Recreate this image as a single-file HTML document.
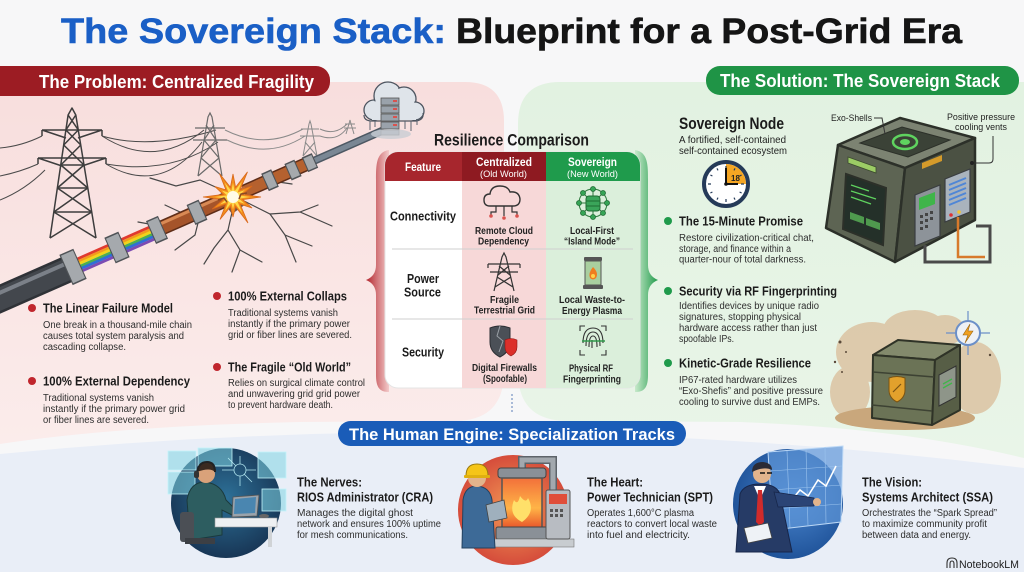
<!DOCTYPE html>
<html><head><meta charset="utf-8">
<style>
html,body{margin:0;padding:0;background:#f7f7f8;}
svg{display:block;}
text{font-family:"Liberation Sans",Arial,sans-serif;}
.h{font-weight:bold;fill:#1b1b1b;font-size:13px;}
.b{fill:#2e2e2e;font-size:10px;}
.c{font-weight:bold;fill:#222;font-size:10px;}
.w{font-weight:bold;fill:#fff;}
</style></head><body>
<svg width="1024" height="572" viewBox="0 0 1024 572" xmlns="http://www.w3.org/2000/svg">
<defs>
<linearGradient id="pk" x1="0" y1="0" x2="0" y2="1"><stop offset="0" stop-color="#f8dedd"/><stop offset="1" stop-color="#fbeceb"/></linearGradient>
<linearGradient id="gr" x1="0" y1="0" x2="0" y2="1"><stop offset="0" stop-color="#e2f2e1"/><stop offset="1" stop-color="#e9f5e8"/></linearGradient>
<linearGradient id="rb" x1="0" y1="0" x2="1" y2="0"><stop offset="0" stop-color="#b3262d"/><stop offset="1" stop-color="#f3caca"/></linearGradient>
<linearGradient id="gb" x1="1" y1="0" x2="0" y2="0"><stop offset="0" stop-color="#1f9a4a"/><stop offset="1" stop-color="#c8eacb"/></linearGradient>
<radialGradient id="c1" cx=".5" cy=".45" r=".6"><stop offset="0" stop-color="#2d7097"/><stop offset="1" stop-color="#163150"/></radialGradient>
<radialGradient id="c2" cx=".5" cy=".5" r=".6"><stop offset="0" stop-color="#f39a55"/><stop offset="1" stop-color="#cf3d36"/></radialGradient>
<radialGradient id="c3" cx=".55" cy=".45" r=".6"><stop offset="0" stop-color="#4a86cf"/><stop offset="1" stop-color="#1c4f95"/></radialGradient>
<linearGradient id="fire" x1="0" y1="0" x2="0" y2="1"><stop offset="0" stop-color="#f2703a"/><stop offset=".6" stop-color="#ffb447"/><stop offset="1" stop-color="#e8552a"/></linearGradient>
<clipPath id="tbl"><rect x="385" y="152" width="255" height="236" rx="13"/></clipPath>
</defs>

<rect width="1024" height="572" fill="#f7f7f8"/>

<!-- panels -->
<path d="M0,82 H465 Q504,82 504,121 V372 Q504,420 456,421 L300,422 Q120,426 0,444 Z" fill="url(#pk)"/>
<path d="M1024,82 H560 Q518,82 518,124 V372 Q518,420 566,421 L740,422 Q900,428 1024,458 Z" fill="url(#gr)"/>
<path d="M0,454 Q512,404 1024,468 V572 H0 Z" fill="#e9eef7"/>

<!-- title -->
<text x="61" y="43" font-size="35" font-weight="bold" fill="#1a5fc6" stroke="#1a5fc6" stroke-width=".6" textLength="385" lengthAdjust="spacingAndGlyphs">The Sovereign Stack:</text>
<text x="456" y="43" font-size="35" font-weight="bold" fill="#151515" stroke="#151515" stroke-width=".6" textLength="506" lengthAdjust="spacingAndGlyphs">Blueprint for a Post-Grid Era</text>

<!-- pills -->
<rect x="-20" y="66" width="350" height="30" rx="14" fill="#9c1c23"/>
<text x="39" y="88" font-size="18" class="w" textLength="275" lengthAdjust="spacingAndGlyphs">The Problem: Centralized Fragility</text>
<rect x="706" y="66" width="313" height="29" rx="14" fill="#1f9446"/>
<text x="720" y="87" font-size="18" class="w" textLength="280" lengthAdjust="spacingAndGlyphs">The Solution: The Sovereign Stack</text>

<!-- power towers -->
<g stroke="#3d3d3d" stroke-width="1.5" fill="none" stroke-linejoin="round">
 <path d="M50,238 L68.1,115 L72,108 L75.8,115 L96,238"/>
 <path d="M50,238 L91.7,212 M96,238 L53.8,212 M53.8,212 L87.8,188 M91.7,212 L57.4,188 M57.4,188 L84,165 M87.8,188 L60.8,165 M60.8,165 L80.8,145 M84,165 L63.7,145 M63.7,145 L78.3,130 M80.8,145 L65.9,130 M65.9,130 L75.8,115 M78.3,130 L68.1,115"/>
 <path d="M53.8,212 H91.7 M57.4,188 H87.8 M60.8,165 H84"/>
 <path d="M42,130 H102 M42,130 L66,138 M102,130 L78,138 M38,158 H106 M38,158 L62,166 M106,158 L82,166"/>
 <path d="M42,130 v6 M102,130 v6 M38,158 v6 M106,158 v6"/>
</g>
<g stroke="#4a4a4a" stroke-width="1" fill="none">
 <path d="M0,148 Q22,146 42,136"/><path d="M0,176 Q20,172 38,164"/><path d="M0,200 Q25,190 45,170"/>
 <path d="M102,136 Q155,170 204,130"/><path d="M106,164 Q160,196 202,142"/><path d="M102,136 Q150,150 216,130"/>
 <path d="M106,164 Q170,175 218,142"/>
</g>
<g stroke="#6a6a6a" stroke-width="1.2" fill="none">
 <path d="M198,176 L208,117 L210,113 L212,117 L222,176 M198,176 L219,158 M222,176 L201,158 M201,158 L216,140 M219,158 L204,140 M204,140 L214,125 M216,140 L206,125"/>
 <path d="M195,128 H225 M193,140 H227"/>
</g>
<g stroke="#8a8a8a" stroke-width="1" fill="none">
 <path d="M225,130 Q265,150 303,129 M227,140 Q268,160 305,136"/>
 <path d="M303,156 L309,124 L310,121 L311,124 L317,156 M303,156 L315,142 M317,156 L305,142 M301,129 H319 M300,136 H320"/>
 <path d="M320,129 Q335,136 347,124 M320,136 Q337,142 347,128"/>
 <path d="M346,134 L349.5,122 L350,120 L350.5,122 L354,134 M345,124 H355 M344,128 H356"/>
</g>

<!-- cracks -->
<g stroke="#474747" stroke-width="1.2" fill="none" stroke-linecap="round">
 <path d="M225,202 L200,215 L180,212 L160,226 L138,222"/>
 <path d="M200,215 L195,235 L175,250 M180,212 L165,205"/>
 <path d="M233,208 L228,230 L240,250 L232,272 M240,250 L262,262"/>
 <path d="M242,200 L270,214 L300,212 L332,226 M300,212 L318,205"/>
 <path d="M270,214 L285,235 L312,246 M285,235 L296,262"/>
 <path d="M222,190 L200,180 L176,186 L150,178"/>
 <path d="M246,192 L265,180 L292,184"/>
 <path d="M228,230 L214,248 L204,264"/>
</g>
<path d="M222,200 L232,214 L246,204 L238,192 Z" fill="#6e5546"/>

<!-- cable -->
<g stroke-linecap="butt">
 <line x1="-10" y1="303.4" x2="73" y2="266.9" stroke="#2f3237" stroke-width="27"/>
 <line x1="-10" y1="303.4" x2="73" y2="266.9" stroke="#43474d" stroke-width="22"/>
 <line x1="-12" y1="298" x2="71" y2="261.4" stroke="#7b8088" stroke-width="4"/>
 <line x1="75" y1="260" x2="160" y2="222.5" stroke="#e03a2f" stroke-width="2.8"/>
 <line x1="75.5" y1="262.7" x2="160.5" y2="225.3" stroke="#f39a1e" stroke-width="2.8"/>
 <line x1="76" y1="265" x2="161" y2="227.6" stroke="#f2d31b" stroke-width="2.8"/>
 <line x1="77" y1="267.6" x2="162" y2="230.2" stroke="#4caf50" stroke-width="2.8"/>
 <line x1="77.5" y1="270" x2="162.5" y2="232.6" stroke="#2f6fd6" stroke-width="2.8"/>
 <line x1="78.5" y1="272.5" x2="163.5" y2="235.1" stroke="#7b4bb3" stroke-width="2.8"/>
 <line x1="160" y1="228.6" x2="225" y2="200" stroke="#5e2d18" stroke-width="15"/>
 <line x1="160" y1="228.6" x2="225" y2="200" stroke="#a5542a" stroke-width="12"/>
 <line x1="158" y1="225" x2="222" y2="196.6" stroke="#d98a55" stroke-width="3"/>
 <path d="M224,196 l8,-3 M225,200 l9,-1 M225,204 l8,2" stroke="#c0703d" stroke-width="2"/>
 <line x1="244" y1="191.6" x2="313" y2="161.2" stroke="#5e2d18" stroke-width="14"/>
 <line x1="244" y1="191.6" x2="313" y2="161.2" stroke="#b5612f" stroke-width="11"/>
 <path d="M245,188 l-8,2 M244,192 l-9,3 M246,195 l-7,5" stroke="#c0703d" stroke-width="2"/>
 <line x1="312" y1="161.7" x2="384" y2="130" stroke="#4d5863" stroke-width="8"/>
 <line x1="312" y1="161.7" x2="384" y2="130" stroke="#7a8794" stroke-width="5"/>
 <!-- rings -->
 <g stroke="#4f5357"><line x1="66" y1="270" x2="80" y2="263.8" stroke-width="33"/><line x1="110" y1="250.6" x2="124" y2="244.4" stroke-width="28"/><line x1="151" y1="232.6" x2="163" y2="227.3" stroke-width="25"/><line x1="191" y1="215" x2="203" y2="209.7" stroke-width="22"/><line x1="265" y1="182.4" x2="275" y2="178" stroke-width="19"/><line x1="288" y1="172.3" x2="298" y2="167.9" stroke-width="18"/><line x1="305" y1="164.8" x2="315" y2="160.4" stroke-width="16"/></g>
 <g stroke="#a5a9ad"><line x1="67" y1="269.5" x2="79" y2="264.2" stroke-width="30"/><line x1="111" y1="250.2" x2="123" y2="244.9" stroke-width="25"/><line x1="152" y1="232.1" x2="162" y2="227.7" stroke-width="22"/><line x1="192" y1="214.5" x2="202" y2="210.1" stroke-width="19"/><line x1="266" y1="182" x2="274" y2="178.4" stroke-width="16"/><line x1="289" y1="171.8" x2="297" y2="168.3" stroke-width="15"/><line x1="306" y1="164.4" x2="314" y2="160.9" stroke-width="13"/></g>
</g>

<!-- explosion -->
<polygon points="261,197 242.7,199.6 252.1,208 240.1,204.1 248,223 235.6,206.7 233,217 230.4,206.7 220,219.5 225.9,204.1 212.2,209 223.3,199.6 203,197 223.3,194.4 214.8,186.5 225.9,189.9 219.5,173.6 230.4,187.3 233,174 235.6,187.3 247.5,171.9 240.1,189.9 252.1,186 242.7,194.4" fill="#f28c1c" stroke="#d9681a" stroke-width=".8"/>
<g transform="translate(233,197) scale(.62) translate(-233,-197)"><polygon points="261,197 242.7,199.6 252.1,208 240.1,204.1 248,223 235.6,206.7 233,217 230.4,206.7 220,219.5 225.9,204.1 212.2,209 223.3,199.6 203,197 223.3,194.4 214.8,186.5 225.9,189.9 219.5,173.6 230.4,187.3 233,174 235.6,187.3 247.5,171.9 240.1,189.9 252.1,186 242.7,194.4" fill="#ffd94a"/></g>
<circle cx="233" cy="197" r="6" fill="#fffbe6"/>
<path d="M218,200 l6,-2 l3,4 M247,193 l-6,1 l-2,5" stroke="#8a4a24" stroke-width="1.5" fill="none"/>

<!-- cloud server -->
<g stroke="#4d5560" stroke-width="1.3">
 <circle cx="374" cy="110" r="10" fill="#dfe4ea"/><circle cx="388" cy="96" r="14" fill="#dfe4ea"/><circle cx="404" cy="99" r="12" fill="#dfe4ea"/><circle cx="415" cy="111" r="9" fill="#dfe4ea"/>
</g>
<g fill="#dfe4ea"><circle cx="374" cy="110" r="8.8"/><circle cx="388" cy="96" r="12.8"/><circle cx="404" cy="99" r="10.8"/><circle cx="415" cy="111" r="7.8"/><rect x="372" y="104" width="44" height="16"/></g>
<path d="M364,115 Q364,121 372,121 H416 Q424,120 423,113" stroke="#4d5560" stroke-width="1.2" fill="none"/>
<g stroke="#555" stroke-width=".8" fill="#9aa2ab"><rect x="381" y="98" width="18" height="7"/><rect x="381" y="106" width="18" height="7"/><rect x="381" y="114" width="18" height="7"/><rect x="381" y="122" width="18" height="7"/><rect x="381" y="130" width="18" height="5"/></g>
<g fill="#d9534f"><rect x="393" y="100" width="4" height="2"/><rect x="393" y="108" width="4" height="2"/><rect x="393" y="116" width="4" height="2"/><rect x="393" y="124" width="4" height="2"/></g>
<g stroke="#5c6470" stroke-width="1"><path d="M370,121 v9 M375,121 v6 M405,121 v8 M411,121 v10 M417,119 v6"/></g>
<ellipse cx="391" cy="134" rx="20" ry="5" fill="#c8cdd3" opacity=".8"/>

<!-- left bullets -->
<g fill="#c0262d"><circle cx="32" cy="308" r="4"/><circle cx="32" cy="381" r="4"/><circle cx="217" cy="296" r="4"/><circle cx="217" cy="367" r="4"/></g>
<text x="43" y="312.5" class="h" textLength="130" lengthAdjust="spacingAndGlyphs">The Linear Failure Model</text>
<text x="43" y="328" class="b" textLength="149" lengthAdjust="spacingAndGlyphs">One break in a thousand-mile chain</text>
<text x="43" y="339" class="b" textLength="141" lengthAdjust="spacingAndGlyphs">causes total system paralysis and</text>
<text x="43" y="350" class="b" textLength="83" lengthAdjust="spacingAndGlyphs">cascading collapse.</text>
<text x="43" y="385.5" class="h" textLength="147" lengthAdjust="spacingAndGlyphs">100% External Dependency</text>
<text x="43" y="401" class="b" textLength="111" lengthAdjust="spacingAndGlyphs">Traditional systems vanish</text>
<text x="43" y="412" class="b" textLength="142" lengthAdjust="spacingAndGlyphs">instantly if the primary power grid</text>
<text x="43" y="423" class="b" textLength="106" lengthAdjust="spacingAndGlyphs">or fiber lines are severed.</text>
<text x="228" y="300.5" class="h" textLength="119" lengthAdjust="spacingAndGlyphs">100% External Collaps</text>
<text x="228" y="316" class="b" textLength="110" lengthAdjust="spacingAndGlyphs">Traditional systems vanish</text>
<text x="228" y="327" class="b" textLength="122" lengthAdjust="spacingAndGlyphs">instantly if the primary power</text>
<text x="228" y="338" class="b" textLength="124" lengthAdjust="spacingAndGlyphs">grid or fiber lines are severed.</text>
<text x="228" y="371.5" class="h" textLength="123" lengthAdjust="spacingAndGlyphs">The Fragile &#8220;Old World&#8221;</text>
<text x="228" y="386" class="b" textLength="137" lengthAdjust="spacingAndGlyphs">Relies on surgical climate control</text>
<text x="228" y="397" class="b" textLength="132" lengthAdjust="spacingAndGlyphs">and unwavering grid grid power</text>
<text x="228" y="408" class="b" textLength="105" lengthAdjust="spacingAndGlyphs">to prevent hardware death.</text>

<!-- braces -->
<path d="M389,150 C376,152 376,165 376,180 L376,265 Q376,276 366,280 Q376,284 376,295 L376,375 C376,388 380,392 389,392 Z" fill="url(#rb)"/>
<path d="M635,150 C648,152 648,165 648,180 L648,265 Q648,276 658,280 Q648,284 648,295 L648,375 C648,388 644,392 635,392 Z" fill="url(#gb)"/>

<!-- table -->
<text x="434" y="145.5" font-size="17" font-weight="bold" fill="#1b1b1b" textLength="155" lengthAdjust="spacingAndGlyphs">Resilience Comparison</text>
<rect x="385" y="152" width="255" height="236" rx="13" fill="#fff" stroke="#e4e4e4"/>
<g clip-path="url(#tbl)">
 <rect x="462" y="181" width="84" height="207" fill="#f7d8d8"/>
 <rect x="546" y="181" width="94" height="207" fill="#dbefdb"/>
 <rect x="385" y="152" width="77" height="29" fill="#a7262d"/>
 <rect x="462" y="152" width="84" height="29" fill="#8e1a21"/>
 <rect x="546" y="152" width="94" height="29" fill="#1f9b4c"/>
</g>
<line x1="392" y1="249" x2="633" y2="249" stroke="#cfcfcf"/>
<line x1="392" y1="319" x2="633" y2="319" stroke="#cfcfcf"/>
<text x="405" y="171" font-size="12" class="w" textLength="36" lengthAdjust="spacingAndGlyphs">Feature</text>
<text x="476" y="166" font-size="12" class="w" textLength="56" lengthAdjust="spacingAndGlyphs">Centralized</text>
<text x="480" y="177" font-size="9.5" fill="#fff" textLength="47" lengthAdjust="spacingAndGlyphs">(Old World)</text>
<text x="568" y="166" font-size="12" class="w" textLength="49" lengthAdjust="spacingAndGlyphs">Sovereign</text>
<text x="567" y="177" font-size="9.5" fill="#fff" textLength="51" lengthAdjust="spacingAndGlyphs">(New World)</text>
<text x="390" y="220.5" class="h" textLength="66" lengthAdjust="spacingAndGlyphs">Connectivity</text>
<text x="407" y="283" class="h" textLength="32" lengthAdjust="spacingAndGlyphs">Power</text>
<text x="404" y="296.5" class="h" textLength="37" lengthAdjust="spacingAndGlyphs">Source</text>
<text x="402" y="356.5" class="h" textLength="42" lengthAdjust="spacingAndGlyphs">Security</text>
<text x="475" y="234" class="c" textLength="58" lengthAdjust="spacingAndGlyphs">Remote Cloud</text>
<text x="478" y="244.5" class="c" textLength="51" lengthAdjust="spacingAndGlyphs">Dependency</text>
<text x="570" y="234" class="c" textLength="44" lengthAdjust="spacingAndGlyphs">Local-First</text>
<text x="564" y="244.5" class="c" textLength="56" lengthAdjust="spacingAndGlyphs">&#8220;Island Mode&#8221;</text>
<text x="490" y="303" class="c" textLength="29" lengthAdjust="spacingAndGlyphs">Fragile</text>
<text x="474" y="313.5" class="c" textLength="61" lengthAdjust="spacingAndGlyphs">Terrestrial Grid</text>
<text x="559" y="303" class="c" textLength="66" lengthAdjust="spacingAndGlyphs">Local Waste-to-</text>
<text x="562" y="314" class="c" textLength="60" lengthAdjust="spacingAndGlyphs">Energy Plasma</text>
<text x="472" y="371" class="c" textLength="65" lengthAdjust="spacingAndGlyphs">Digital Firewalls</text>
<text x="483" y="382" class="c" textLength="44" lengthAdjust="spacingAndGlyphs">(Spoofable)</text>
<text x="569" y="371.5" class="c" textLength="44" lengthAdjust="spacingAndGlyphs">Physical RF</text>
<text x="563" y="382.5" class="c" textLength="58" lengthAdjust="spacingAndGlyphs">Fingerprinting</text>

<!-- table icons -->
<path d="M490,206 Q484,206 484,200 Q484,194 490,194 Q491,186 500,186 Q508,186 510,192 Q519,191 520,199 Q520,206 513,206 Z" fill="none" stroke="#333" stroke-width="1.4"/>
<path d="M496,206 v6 h-5 v3 M504,206 v10 M512,206 v6 h5 v3" stroke="#333" stroke-width="1.2" fill="none"/>
<g fill="#d9534f"><circle cx="491" cy="216" r="1.8"/><circle cx="504" cy="218" r="1.8"/><circle cx="517" cy="216" r="1.8"/></g>
<g stroke="#2d7a3d" stroke-width="1" fill="none"><circle cx="593" cy="203" r="14"/><path d="M579,203 H607 M593,189 V217 M583,193 L603,213 M603,193 L583,213"/></g>
<g fill="#36a456" stroke="#1f6b33" stroke-width=".8"><circle cx="593" cy="189" r="2.5"/><circle cx="603" cy="193" r="2.5"/><circle cx="607" cy="203" r="2.5"/><circle cx="603" cy="213" r="2.5"/><circle cx="593" cy="217" r="2.5"/><circle cx="583" cy="213" r="2.5"/><circle cx="579" cy="203" r="2.5"/><circle cx="583" cy="193" r="2.5"/></g>
<rect x="586" y="196" width="14" height="15" rx="3" fill="#3aa55a" stroke="#1f6b33"/>
<path d="M586,201 h14 M586,206 h14" stroke="#1f6b33"/>
<g stroke="#333" stroke-width="1.2" fill="none"><path d="M494,291 L502,257 L504,253 L506,257 L514,291 M495,287 L511,277 M513,287 L497,277 M498,275 L509,266 M510,275 L499,266 M488,264 H520 M490,272 H518 M488,264 v4 M520,264 v4"/></g>
<rect x="584" y="257" width="18" height="4" rx="1" fill="#555"/>
<rect x="585" y="261" width="16" height="24" fill="#a9cf9f" stroke="#555"/>
<rect x="583" y="285" width="20" height="4" rx="1" fill="#555"/>
<path d="M593,267 Q599,273 596,278 Q593,281 590,278 Q588,273 593,267 Z" fill="#f07d1e"/>
<circle cx="593" cy="276" r="2" fill="#ffd34a"/>
<path d="M490,328 Q500,324 510,328 V342 Q510,352 500,357 Q490,352 490,342 Z" fill="#4b5057" stroke="#2b2e33"/>
<path d="M500,326 L497,336 L503,341 L499,352" stroke="#9aa0a6" stroke-width="1" fill="none"/>
<path d="M505,340 Q511,337 517,340 V347 Q517,353 511,356 Q505,353 505,347 Z" fill="#dc2f2a" stroke="#8e1a1a" stroke-width=".6"/>
<g stroke="#333" stroke-width="1.1" fill="none"><path d="M580,331 v-5 h5 M601,326 h5 v5 M580,350 v5 h5 M606,350 v5 h-5"/><path d="M586,346 Q586,332 593,332 Q600,332 600,346 M589,347 Q589,336 593,336 Q597,336 597,347 M592,348 V340 M583,343 Q583,328 593,328 Q603,328 603,343"/></g>
<line x1="582" y1="341" x2="605" y2="341" stroke="#2f9a4a" stroke-width="1.4"/>

<!-- dashed connector -->
<line x1="512" y1="394" x2="512" y2="414" stroke="#5b7db8" stroke-width="1" stroke-dasharray="2,2"/>

<!-- right column text -->
<text x="679" y="129" font-size="17" font-weight="bold" fill="#1b1b1b" textLength="105" lengthAdjust="spacingAndGlyphs">Sovereign Node</text>
<text x="679" y="143" font-size="10.5" fill="#1f1f1f" textLength="107" lengthAdjust="spacingAndGlyphs">A fortified, self-contained</text>
<text x="679" y="154" font-size="10.5" fill="#1f1f1f" textLength="108" lengthAdjust="spacingAndGlyphs">self-contained ecosystem</text>
<!-- clock -->
<circle cx="726" cy="184" r="22" fill="#fff" stroke="#253a58" stroke-width="4"/>
<path d="M726,184 L726,164 A20,20 0 0 1 746,184 Z" fill="#f5a623"/>
<g stroke="#253a58" stroke-width="1.2"><path d="M726,166 v3 M744,184 h-3 M726,202 v-3 M708,184 h3 M735,168.4 l-1,2 M741.6,175 l-2,1 M717,168.4 l1,2 M710.4,175 l2,1 M710.4,193 l2,-1 M717,199.6 l1,-2 M735,199.6 l-1,-2 M741.6,193 l-2,-1"/></g>
<path d="M726,184 V168 M726,184 H738" stroke="#111" stroke-width="2"/>
<text x="731" y="181" font-size="8" font-weight="bold" fill="#222">18</text>
<circle cx="726" cy="184" r="1.8" fill="#111"/>
<g fill="#1f9a4b"><circle cx="668" cy="221" r="4"/><circle cx="668" cy="291" r="4"/><circle cx="668" cy="363" r="4"/></g>
<text x="679" y="225.5" class="h" textLength="124" lengthAdjust="spacingAndGlyphs">The 15-Minute Promise</text>
<text x="679" y="241" class="b" textLength="135" lengthAdjust="spacingAndGlyphs">Restore civilization-critical chat,</text>
<text x="679" y="252" class="b" textLength="112" lengthAdjust="spacingAndGlyphs">storage, and finance within a</text>
<text x="679" y="262.5" class="b" textLength="127" lengthAdjust="spacingAndGlyphs">quarter-nour of total darkness.</text>
<text x="679" y="295.5" class="h" textLength="158" lengthAdjust="spacingAndGlyphs">Security via RF Fingerprinting</text>
<text x="679" y="309" class="b" textLength="140" lengthAdjust="spacingAndGlyphs">Identifies devices by unique radio</text>
<text x="679" y="320" class="b" textLength="122" lengthAdjust="spacingAndGlyphs">signatures, stopping physical</text>
<text x="679" y="331" class="b" textLength="138" lengthAdjust="spacingAndGlyphs">hardware access rather than just</text>
<text x="679" y="342" class="b" textLength="55" lengthAdjust="spacingAndGlyphs">spoofable IPs.</text>
<text x="679" y="367.5" class="h" textLength="132" lengthAdjust="spacingAndGlyphs">Kinetic-Grade Resilience</text>
<text x="679" y="383" class="b" textLength="118" lengthAdjust="spacingAndGlyphs">IP67-rated hardware utilizes</text>
<text x="679" y="394" class="b" textLength="144" lengthAdjust="spacingAndGlyphs">&#8220;Exo-Shefis&#8221; and positive pressure</text>
<text x="679" y="405" class="b" textLength="141" lengthAdjust="spacingAndGlyphs">cooling to survive dust and EMPs.</text>

<!-- sovereign node box -->
<g stroke="#2c3029" stroke-width="2.5" stroke-linejoin="round">
 <polygon points="838,145 900,118 975,138 905,168" fill="#7c8372"/>
 <polygon points="838,145 905,168 895,262 826,228" fill="#5d6453"/>
 <polygon points="905,168 975,138 975,220 895,262" fill="#4b5143"/>
</g>
<polygon points="860,143 902,127 950,140 908,157" fill="#3b4237" stroke="#2c3029"/>
<ellipse cx="905" cy="142" rx="12" ry="7" fill="none" stroke="#5fd35f" stroke-width="2.5"/>
<ellipse cx="905" cy="142" rx="5" ry="3" fill="#5fd35f"/>
<polygon points="846,174 886,188 883,245 843,229" fill="#243029" stroke="#2c3029" stroke-width="2"/>
<g stroke="#5fd35f" stroke-width="1.2"><path d="M851,185 l18,6 M851,191 l25,8 M851,197 l20,7"/></g>
<g fill="#4f9a4e"><polygon points="850,212 864,217 864,224 850,219"/><polygon points="866,218 880,223 880,230 866,225"/></g>
<polygon points="848,157 876,167 876,173 848,163" fill="#9ccc65" stroke="#3b4a2e" stroke-width=".8"/>
<polygon points="922,163 942,155 942,161 922,169" fill="#d49a2a"/>
<polygon points="915,195 940,185 940,236 915,246" fill="#8d9399" stroke="#3a3d40" stroke-width="1.2"/>
<polygon points="919,198 935,192 935,204 919,210" fill="#3fb54a"/>
<g fill="#444"><rect x="920" y="215" width="3" height="3"/><rect x="925" y="213" width="3" height="3"/><rect x="930" y="211" width="3" height="3"/><rect x="920" y="221" width="3" height="3"/><rect x="925" y="219" width="3" height="3"/><rect x="930" y="217" width="3" height="3"/><rect x="920" y="227" width="3" height="3"/><rect x="925" y="225" width="3" height="3"/></g>
<polygon points="945,179 970,169 970,212 945,222" fill="#a9b3bd" stroke="#3a3d40" stroke-width="1.2"/>
<g stroke="#4f86d6" stroke-width="2"><path d="M949,185 l17,-7 M949,190 l17,-7 M949,195 l17,-7 M949,200 l17,-7 M949,205 l17,-7"/></g>
<circle cx="951" cy="215" r="1.8" fill="#d33"/><circle cx="959" cy="212" r="1.8" fill="#f2c230"/>
<circle cx="972" cy="163" r="2" fill="#222"/>
<path d="M925,245 V262 H990 V226 H976" stroke="#4a4a4a" stroke-width="3" fill="none"/>
<path d="M958,217 V257 H985" stroke="#d77a2b" stroke-width="2.5" fill="none"/>
<text x="831" y="121" font-size="9" fill="#222" textLength="41" lengthAdjust="spacingAndGlyphs">Exo-Shells</text>
<path d="M874,118 H882 L885,134" stroke="#333" stroke-width="1" fill="none"/>
<text x="981" y="120" font-size="9" fill="#222" text-anchor="middle" textLength="68" lengthAdjust="spacingAndGlyphs">Positive pressure</text>
<text x="981" y="130" font-size="9" fill="#222" text-anchor="middle" textLength="52" lengthAdjust="spacingAndGlyphs">cooling vents</text>
<path d="M993,136 V159 Q993,163 989,163 H975" stroke="#333" stroke-width="1" fill="none"/>

<!-- dusty box -->
<g fill="#dcc6a6" opacity=".9">
 <ellipse cx="872" cy="352" rx="36" ry="30"/><ellipse cx="915" cy="330" rx="32" ry="20"/><ellipse cx="975" cy="378" rx="26" ry="36"/><ellipse cx="850" cy="392" rx="20" ry="26"/><ellipse cx="945" cy="330" rx="20" ry="15"/>
</g>
<ellipse cx="905" cy="418" rx="70" ry="12" fill="#c9a77c"/>
<g fill="#5a4a3a"><circle cx="840" cy="342" r="1.5"/><circle cx="846" cy="352" r="1"/><circle cx="835" cy="362" r="1.2"/><circle cx="842" cy="372" r="1"/><circle cx="990" cy="355" r="1.2"/></g>
<g stroke="#2f3327" stroke-width="2" stroke-linejoin="round">
 <polygon points="873,355 898,340 960,345 935,360" fill="#838a6c"/>
 <polygon points="873,355 935,360 932,425 872,418" fill="#6b7356"/>
 <polygon points="935,360 960,345 960,410 932,425" fill="#575e46"/>
</g>
<path d="M873,372 L934,377 M872,405 L932,411" stroke="#3d4233" stroke-width="1.5"/>
<path d="M889,378 Q897,375 905,378 V390 Q905,398 897,402 Q889,398 889,390 Z" fill="#e2a12c" stroke="#7a5413"/>
<path d="M893,392 L901,384" stroke="#7a5413" stroke-width="1.2"/>
<polygon points="939,375 956,366 956,397 939,406" fill="#8e9589" stroke="#333" stroke-width="1"/>
<path d="M943,384 l9,-5 M943,388 l9,-5" stroke="#3fb54a" stroke-width="1.3"/>
<g stroke="#6b8fc8" stroke-width="1.2"><path d="M946,333 H990 M968,311 V355"/></g>
<circle cx="968" cy="333" r="12" fill="#eef1f5" stroke="#6b8fc8" stroke-width="2"/>
<path d="M970,324 L963,335 H968 L965,343 L973,331 H968 Z" fill="#f0a020" stroke="#9a6510" stroke-width=".6"/>

<!-- human engine pill -->
<rect x="338" y="421" width="348" height="25" rx="12.5" fill="#1a5cb8"/>
<text x="349" y="440" font-size="17" class="w" textLength="326" lengthAdjust="spacingAndGlyphs">The Human Engine: Specialization Tracks</text>

<!-- circle 1: nerves -->
<circle cx="226" cy="503" r="55" fill="url(#c1)"/>
<g fill="#82d6e3" fill-opacity=".55" stroke="#c4f4fa" stroke-width=".8">
 <rect x="168" y="451" width="28" height="19"/><rect x="198" y="448" width="34" height="18"/><rect x="258" y="452" width="28" height="26"/><rect x="168" y="472" width="27" height="22"/><rect x="262" y="489" width="24" height="22"/>
</g>
<g stroke="#bff3fa" stroke-width=".8" fill="none" opacity=".9"><circle cx="240" cy="470" r="6"/><path d="M234,470 h-12 M246,470 h10 M240,464 v-8 M240,476 v10 M236,466 l-8,-8 M244,474 l8,8"/></g>
<path d="M187,500 Q190,482 205,482 Q222,484 226,500 L236,510 L232,515 L222,510 L222,535 L190,540 Z" fill="#2d5d60" stroke="#1b3a3c"/>
<circle cx="206" cy="474" r="9" fill="#d9a27a"/>
<path d="M197,472 Q198,462 207,462 Q216,463 215,472 Q210,467 197,472 Z" fill="#3a2a20"/>
<path d="M197,474 Q198,462 207,462 Q215,462 215,472" stroke="#222" stroke-width="2" fill="none"/>
<rect x="194" y="471" width="5" height="7" rx="2" fill="#333"/>
<rect x="180" y="512" width="14" height="30" rx="3" fill="#4b4f55"/>
<rect x="185" y="538" width="30" height="6" fill="#3c3f44"/>
<rect x="215" y="518" width="62" height="9" fill="#eef0f2" stroke="#999" stroke-width=".6"/>
<rect x="268" y="527" width="4" height="20" fill="#d0d3d6"/>
<polygon points="233,497 259,495 257,516 232,517" fill="#9aa3ab" stroke="#555" stroke-width=".8"/>
<polygon points="235,499 256,497 255,513 234,514" fill="#4a86b0"/>
<ellipse cx="264" cy="516" rx="5" ry="2" fill="#666"/>
<text x="297" y="486.5" class="h" textLength="65" lengthAdjust="spacingAndGlyphs">The Nerves:</text>
<text x="297" y="501.5" class="h" textLength="136" lengthAdjust="spacingAndGlyphs">RIOS Administrator (CRA)</text>
<text x="297" y="516" class="b" textLength="116" lengthAdjust="spacingAndGlyphs">Manages the digital ghost</text>
<text x="297" y="527" class="b" textLength="144" lengthAdjust="spacingAndGlyphs">network and ensures 100% uptime</text>
<text x="297" y="538" class="b" textLength="111" lengthAdjust="spacingAndGlyphs">for mesh communications.</text>

<!-- circle 2: heart -->
<circle cx="513" cy="510" r="55" fill="url(#c2)"/>
<path d="M522,472 V460 H553 V492" stroke="#5d636a" stroke-width="8" fill="none"/>
<path d="M522,472 V460 H553 V492" stroke="#a2a8ae" stroke-width="5" fill="none"/>
<rect x="498" y="468" width="48" height="10" rx="3" fill="#8a9097" stroke="#444"/>
<rect x="502" y="478" width="40" height="50" fill="url(#fire)" stroke="#555" stroke-width="1.5"/>
<path d="M522,522 Q508,515 514,500 Q518,506 520,496 Q526,504 528,498 Q536,512 522,522 Z" fill="#ffe06a"/>
<rect x="496" y="527" width="52" height="12" rx="2" fill="#8a9097" stroke="#444"/>
<rect x="478" y="539" width="96" height="8" fill="#c8ccd0" stroke="#777" stroke-width=".6"/>
<rect x="546" y="490" width="24" height="49" rx="2" fill="#b8bcc2" stroke="#555"/>
<rect x="549" y="494" width="18" height="10" fill="#e04e3a"/>
<g fill="#555"><rect x="550" y="509" width="3" height="3"/><rect x="555" y="509" width="3" height="3"/><rect x="560" y="509" width="3" height="3"/><rect x="550" y="514" width="3" height="3"/><rect x="555" y="514" width="3" height="3"/><rect x="560" y="514" width="3" height="3"/></g>
<path d="M462,548 L463,500 Q465,486 477,486 Q490,487 492,500 L495,548 Z" fill="#3d6a97" stroke="#22415f"/>
<circle cx="477" cy="478" r="9" fill="#e2b48c"/>
<path d="M466,476 Q466,464 477,464 Q488,464 488,476 Z" fill="#f5c518" stroke="#9a7a10"/>
<rect x="464" y="475" width="26" height="3" rx="1" fill="#e0b010"/>
<polygon points="486,505 504,500 507,518 489,522" fill="#9fb0bd" stroke="#444" stroke-width=".8"/>
<text x="587" y="486.5" class="h" textLength="56" lengthAdjust="spacingAndGlyphs">The Heart:</text>
<text x="587" y="501.5" class="h" textLength="126" lengthAdjust="spacingAndGlyphs">Power Technician (SPT)</text>
<text x="587" y="516" class="b" textLength="107" lengthAdjust="spacingAndGlyphs">Operates 1,600°C plasma</text>
<text x="587" y="527" class="b" textLength="130" lengthAdjust="spacingAndGlyphs">reactors to convert local waste</text>
<text x="587" y="538" class="b" textLength="103" lengthAdjust="spacingAndGlyphs">into fuel and electricity.</text>

<!-- circle 3: vision -->
<circle cx="788" cy="504" r="55" fill="url(#c3)"/>
<polygon points="768,452 843,446 841,522 773,530" fill="#5f97d9" fill-opacity=".7" stroke="#bcd8f6" stroke-width="1"/>
<g stroke="#9cc4ee" stroke-width=".6"><path d="M787,451 L790,528 M806,449 L808,526 M825,447 L826,524 M770,471 L842,466 M771,490 L842,485 M772,509 L841,504"/></g>
<polyline points="790,502 800,490 808,496 818,480 826,486 836,466" stroke="#fff" stroke-width="1.6" fill="none"/>
<path d="M736,552 L740,494 Q744,484 760,484 Q776,484 780,494 L792,552 Z" fill="#263b66" stroke="#17264a"/>
<polygon points="754,486 766,486 760,500" fill="#fff"/>
<polygon points="758,490 762,490 764,522 760,526 756,522" fill="#d02b2b"/>
<polygon points="774,492 814,498 814,506 778,507" fill="#2b4475" stroke="#17264a" stroke-width=".8"/>
<circle cx="817" cy="502" r="4" fill="#e2b48c"/>
<circle cx="762" cy="474" r="9" fill="#e2b48c"/>
<path d="M752,472 Q752,462 763,462 Q772,463 772,470 Q764,466 752,472 Z" fill="#2b2b35"/>
<path d="M760,473 h5 m2,0 h5" stroke="#111" stroke-width="1.5"/>
<polygon points="744,528 768,523 772,538 748,543" fill="#eef2f6" stroke="#444" stroke-width=".8"/>
<text x="862" y="486.5" class="h" textLength="60" lengthAdjust="spacingAndGlyphs">The Vision:</text>
<text x="862" y="501.5" class="h" textLength="131" lengthAdjust="spacingAndGlyphs">Systems Architect (SSA)</text>
<text x="862" y="516" class="b" textLength="135" lengthAdjust="spacingAndGlyphs">Orchestrates the &#8220;Spark Spread&#8221;</text>
<text x="862" y="527" class="b" textLength="125" lengthAdjust="spacingAndGlyphs">to maximize community profit</text>
<text x="862" y="538" class="b" textLength="109" lengthAdjust="spacingAndGlyphs">between data and energy.</text>

<!-- NotebookLM -->
<path d="M947,568 V563 Q947,558 952,558 Q957,558 957,563 V568 M950,568 V564 Q950,561 952,561 Q954,561 954,564 V568" stroke="#333" stroke-width="1.1" fill="none"/>
<text x="959" y="568" font-size="11" fill="#222" textLength="60" lengthAdjust="spacingAndGlyphs">NotebookLM</text>
</svg>
</body></html>
